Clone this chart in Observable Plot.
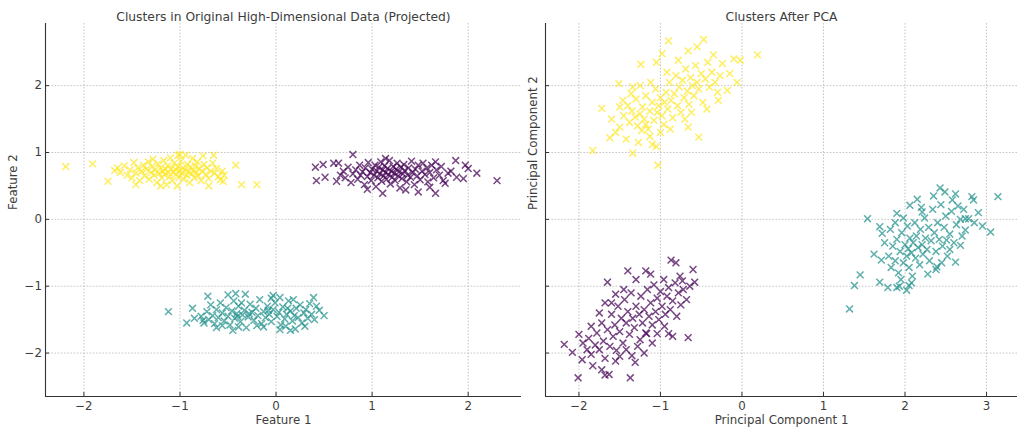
<!DOCTYPE html>
<html><head><meta charset="utf-8">
<script src="https://cdn.jsdelivr.net/npm/d3@7"></script>
<script src="https://cdn.jsdelivr.net/npm/@observablehq/plot@0.6"></script>
<style>
body{margin:0;background:#fff;}
#wrap{position:relative;width:1024px;height:435px;}
#left{position:absolute;left:0;top:0;}
#right{position:absolute;left:522px;top:0;}
</style></head><body><div id="wrap"><div id="left"></div><div id="right"></div></div>
<script>
// ---------- data ----------
const titles = ["Clusters in Original High-Dimensional Data (Projected)", "Clusters After PCA"];
const xLabels = ["Feature 1", "Principal Component 1"];
const yLabels = ["Feature 2", "Principal Component 2"];
const xTicksLeft = [-2, -1, 0, 1, 2];
const xTicksRight = [-2, -1, 0, 1, 2, 3];
const yTicks = [-2, -1, 0, 1, 2];
const colorPurple = "#440154", colorTeal = "#21918c", colorYellow = "#fde725";

const leftYellow = [[-2.19,0.79],[-1.91,0.83],[-1.75,0.57],[-1.68,0.73],[-1.65,0.77],[-1.62,0.70],[-1.58,0.80],[-1.55,0.66],[-1.52,0.74],[-1.50,0.62],[-1.48,0.85],[-1.46,0.69],[-1.44,0.77],[-1.42,0.58],[-1.40,0.72],[-1.38,0.81],[-1.37,0.65],[-1.35,0.75],[-1.33,0.86],[-1.32,0.60],[-1.30,0.70],[-1.29,0.79],[-1.27,0.66],[-1.26,0.74],[-1.24,0.55],[-1.23,0.83],[-1.22,0.69],[-1.20,0.77],[-1.19,0.62],[-1.18,0.72],[-1.17,0.88],[-1.16,0.67],[-1.15,0.75],[-1.14,0.52],[-1.13,0.80],[-1.12,0.70],[-1.11,0.64],[-1.10,0.92],[-1.09,0.76],[-1.08,0.58],[-1.07,0.71],[-1.06,0.84],[-1.05,0.67],[-1.04,0.74],[-1.03,0.50],[-1.02,0.79],[-1.01,0.63],[-1.00,0.72],[-0.99,0.87],[-0.98,0.69],[-0.97,0.77],[-0.96,0.60],[-0.95,0.74],[-0.94,0.96],[-0.93,0.66],[-0.92,0.82],[-0.91,0.71],[-0.90,0.55],[-0.89,0.78],[-0.88,0.68],[-0.87,0.91],[-0.86,0.73],[-0.85,0.62],[-0.84,0.80],[-0.83,0.70],[-0.82,0.86],[-0.81,0.65],[-0.80,0.76],[-0.78,0.58],[-0.77,0.72],[-0.76,0.95],[-0.75,0.82],[-0.73,0.67],[-0.72,0.77],[-0.70,0.61],[-0.68,0.72],[-0.66,0.84],[-0.64,0.69],[-0.62,0.76],[-0.60,0.64],[-0.58,0.59],[-0.56,0.72],[-0.54,0.66],[-0.42,0.81],[-0.36,0.52],[-0.20,0.52],[-0.70,0.50],[-1.46,0.52],[-1.20,0.50],[-1.00,0.97],[-1.28,0.90],[-0.55,0.57],[-1.02,0.96],[-0.65,0.96]];

const leftPurple = [[0.41,0.78],[0.42,0.58],[0.49,0.82],[0.51,0.63],[0.60,0.84],[0.65,0.84],[0.63,0.57],[0.80,0.97],[1.11,0.39],[1.48,0.41],[1.66,0.39],[1.87,0.88],[1.97,0.81],[2.09,0.69],[2.30,0.58],[1.76,0.54],[1.88,0.63],[1.95,0.61],[1.79,0.69],[1.66,0.86],[1.14,0.91],[2.00,0.76],[0.70,0.72],[0.72,0.62],[0.75,0.78],[0.78,0.55],[0.80,0.68],[0.83,0.74],[0.85,0.60],[0.87,0.81],[0.88,0.66],[0.90,0.71],[0.92,0.52],[0.93,0.77],[0.95,0.64],[0.96,0.85],[0.98,0.70],[0.99,0.58],[1.00,0.75],[1.02,0.66],[1.03,0.81],[1.04,0.49],[1.05,0.72],[1.06,0.62],[1.07,0.78],[1.08,0.68],[1.09,0.86],[1.10,0.57],[1.11,0.74],[1.12,0.65],[1.13,0.80],[1.14,0.70],[1.15,0.60],[1.16,0.76],[1.17,0.67],[1.18,0.88],[1.19,0.53],[1.20,0.72],[1.21,0.63],[1.22,0.79],[1.23,0.69],[1.24,0.58],[1.25,0.75],[1.26,0.84],[1.27,0.65],[1.28,0.71],[1.29,0.47],[1.30,0.78],[1.31,0.61],[1.32,0.68],[1.33,0.82],[1.34,0.73],[1.36,0.56],[1.37,0.66],[1.38,0.77],[1.40,0.63],[1.41,0.87],[1.42,0.70],[1.44,0.52],[1.45,0.75],[1.47,0.65],[1.48,0.81],[1.50,0.59],[1.52,0.72],[1.53,0.84],[1.55,0.67],[1.57,0.77],[1.58,0.56],[1.60,0.70],[1.62,0.81],[1.64,0.62],[1.67,0.74],[1.70,0.66],[1.72,0.79],[1.74,0.58],[1.82,0.72],[0.67,0.66],[0.95,0.45],[1.35,0.44],[1.60,0.48]];

const leftTeal = [[-1.12,-1.38],[-0.87,-1.33],[-0.71,-1.15],[-0.42,-1.11],[-0.32,-1.12],[-0.03,-1.14],[0.04,-1.17],[0.39,-1.17],[0.50,-1.44],[-0.56,-1.59],[-0.39,-1.61],[-0.13,-1.61],[0.04,-1.65],[0.15,-1.66],[-0.76,-1.51],[-0.50,-1.13],[0.42,-1.30],[0.40,-1.50],[-0.78,-1.45],[-0.75,-1.55],[-0.72,-1.38],[-0.70,-1.50],[-0.68,-1.28],[-0.66,-1.44],[-0.64,-1.56],[-0.62,-1.35],[-0.60,-1.47],[-0.58,-1.25],[-0.56,-1.40],[-0.54,-1.52],[-0.52,-1.32],[-0.50,-1.45],[-0.48,-1.58],[-0.46,-1.37],[-0.44,-1.22],[-0.43,-1.48],[-0.41,-1.41],[-0.39,-1.30],[-0.37,-1.53],[-0.35,-1.43],[-0.33,-1.36],[-0.31,-1.62],[-0.29,-1.46],[-0.27,-1.27],[-0.25,-1.39],[-0.23,-1.51],[-0.21,-1.33],[-0.19,-1.44],[-0.17,-1.20],[-0.15,-1.56],[-0.13,-1.38],[-0.11,-1.47],[-0.09,-1.30],[-0.07,-1.42],[-0.05,-1.53],[-0.03,-1.35],[-0.01,-1.25],[0.01,-1.45],[0.03,-1.39],[0.05,-1.58],[0.07,-1.31],[0.09,-1.49],[0.11,-1.42],[0.13,-1.22],[0.15,-1.37],[0.17,-1.52],[0.19,-1.44],[0.21,-1.33],[0.23,-1.47],[0.25,-1.28],[0.27,-1.55],[0.29,-1.40],[0.31,-1.35],[0.33,-1.48],[0.35,-1.26],[0.37,-1.42],[0.45,-1.36],[-0.36,-1.25],[-0.20,-1.59],[-0.05,-1.18],[0.10,-1.60],[-0.62,-1.62],[-0.85,-1.48],[-0.93,-1.55],[0.20,-1.64],[-0.45,-1.66],[0.30,-1.60],[0.18,-1.20],[-0.28,-1.41],[-0.08,-1.36],[0.12,-1.33],[-0.40,-1.45]];

const rightYellow = [[-0.90,2.67],[-0.47,2.69],[-0.55,2.58],[0.19,2.46],[-0.10,2.40],[-0.02,2.38],[-0.35,2.46],[-1.24,2.32],[-1.05,2.35],[-0.24,2.33],[-1.51,2.03],[-1.34,1.98],[-1.72,1.66],[-1.83,1.03],[-1.34,0.99],[-1.05,1.09],[-1.03,0.81],[-0.53,1.23],[-0.18,1.93],[-0.29,1.78],[-0.43,1.65],[-0.66,1.38],[-1.13,1.24],[-1.23,1.33],[-1.46,1.78],[-1.31,1.53],[-1.45,1.55],[-1.40,1.70],[-1.38,1.45],[-1.35,1.62],[-1.30,1.80],[-1.28,1.40],[-1.25,1.58],[-1.22,1.68],[-1.20,1.50],[-1.18,1.85],[-1.15,1.35],[-1.13,1.62],[-1.10,1.75],[-1.08,1.48],[-1.06,1.95],[-1.04,1.60],[-1.02,1.70],[-1.00,1.82],[-0.98,1.55],[-0.96,1.42],[-0.95,1.75],[-0.93,1.90],[-0.91,1.65],[-0.89,2.05],[-0.87,1.78],[-0.85,1.52],[-0.83,1.88],[-0.81,2.15],[-0.79,1.70],[-0.77,1.98],[-0.75,1.60],[-0.73,2.08],[-0.71,1.82],[-0.69,2.25],[-0.67,1.92],[-0.65,1.72],[-0.63,2.12],[-0.61,2.00],[-0.59,1.85],[-0.57,2.30],[-0.55,2.05],[-0.53,1.95],[-0.50,2.18],[-0.48,1.75],[-0.45,2.10],[-0.42,2.35],[-0.40,1.98],[-0.37,2.20],[-0.33,2.05],[-0.30,1.90],[-0.27,2.15],[-1.60,1.50],[-1.55,1.30],[-1.50,1.68],[-1.42,1.20],[-1.36,1.88],[-1.27,1.15],[-1.18,1.42],[-1.12,2.05],[-1.00,1.30],[-0.92,2.20],[-0.88,1.35],[-0.78,2.38],[-0.70,1.50],[-0.62,1.60],[-1.25,2.00],[-0.98,2.48],[-0.66,2.52],[-0.15,2.18],[-0.06,2.05],[-1.62,1.22],[-1.50,1.38],[-1.10,1.12]];

const rightPurple = [[-0.87,-0.61],[-0.81,-0.65],[-0.60,-0.75],[-0.58,-0.94],[-0.76,-0.85],[-0.73,-0.92],[-1.40,-0.77],[-1.65,-0.94],[-1.18,-0.77],[-1.12,-0.82],[-2.18,-1.87],[-2.01,-2.37],[-1.37,-2.37],[-1.63,-2.32],[-1.68,-2.33],[-0.66,-1.77],[-0.90,-1.71],[-2.08,-1.99],[-1.96,-2.10],[-1.83,-2.19],[-1.72,-2.25],[-1.31,-2.14],[-1.35,-2.04],[-1.54,-1.96],[-1.04,-1.71],[-1.17,-1.71],[-1.95,-1.85],[-1.90,-1.95],[-1.88,-1.78],[-1.85,-2.02],[-1.80,-1.88],[-1.78,-1.70],[-1.75,-1.95],[-1.72,-1.55],[-1.70,-1.82],[-1.68,-2.08],[-1.65,-1.65],[-1.62,-1.90],[-1.60,-1.42],[-1.58,-1.75],[-1.56,-1.58],[-1.55,-2.12],[-1.52,-1.30],[-1.50,-1.68],[-1.48,-1.48],[-1.46,-1.85],[-1.44,-1.20],[-1.42,-1.55],[-1.40,-1.38],[-1.38,-1.72],[-1.36,-1.10],[-1.34,-1.48],[-1.32,-1.62],[-1.30,-1.30],[-1.28,-1.90],[-1.26,-1.42],[-1.24,-1.15],[-1.22,-1.55],[-1.20,-1.35],[-1.18,-1.70],[-1.16,-1.05],[-1.14,-1.45],[-1.12,-1.25],[-1.10,-1.58],[-1.08,-0.98],[-1.06,-1.38],[-1.04,-1.18],[-1.02,-1.50],[-1.00,-1.08],[-0.98,-1.30],[-0.96,-0.90],[-0.94,-1.42],[-0.92,-1.15],[-0.90,-1.02],[-0.88,-1.35],[-0.85,-1.22],[-0.82,-0.95],[-0.80,-1.45],[-0.78,-1.10],[-0.75,-1.28],[-0.72,-1.05],[-0.68,-1.20],[-0.64,-1.00],[-1.60,-1.25],[-1.45,-1.05],[-1.30,-0.90],[-1.50,-2.05],[-1.25,-1.80],[-1.10,-1.85],[-1.42,-1.95],[-1.85,-1.60],[-2.00,-1.72],[-1.75,-1.40],[-1.55,-1.12],[-1.20,-2.00],[-0.95,-1.60],[-0.85,-1.75],[-1.68,-1.25]];

const rightTeal = [[2.43,0.47],[2.49,0.41],[2.82,0.34],[2.84,0.29],[3.14,0.34],[3.05,-0.19],[2.58,0.29],[1.54,0.01],[1.90,0.09],[2.06,0.21],[1.69,-0.11],[1.72,-0.21],[1.45,-0.83],[1.38,-0.99],[1.32,-1.34],[1.69,-0.94],[1.79,-1.02],[1.90,-1.02],[1.93,-1.00],[2.02,-1.06],[2.05,-0.99],[2.62,-0.64],[2.39,-0.71],[2.68,-0.39],[2.74,0.01],[2.78,0.01],[2.68,0.00],[2.74,-0.16],[2.51,-0.31],[2.21,0.11],[1.71,-0.61],[1.80,-0.55],[1.83,-0.72],[1.85,-0.40],[1.88,-0.62],[1.90,-0.30],[1.92,-0.80],[1.94,-0.48],[1.96,-0.20],[1.98,-0.65],[2.00,-0.38],[2.02,-0.55],[2.03,-0.10],[2.04,-0.44],[2.05,-0.72],[2.06,-0.28],[2.08,-0.50],[2.09,-0.85],[2.10,-0.35],[2.12,-0.05],[2.13,-0.58],[2.14,-0.25],[2.16,-0.42],[2.18,-0.68],[2.19,-0.15],[2.21,-0.38],[2.22,-0.52],[2.24,0.02],[2.25,-0.28],[2.27,-0.45],[2.29,-0.12],[2.30,-0.62],[2.32,-0.32],[2.34,0.15],[2.36,-0.20],[2.38,-0.48],[2.40,-0.05],[2.42,-0.30],[2.44,0.22],[2.46,-0.40],[2.48,-0.12],[2.50,0.05],[2.52,-0.55],[2.55,-0.22],[2.57,0.12],[2.60,-0.35],[2.63,-0.08],[2.65,0.20],[2.70,-0.25],[2.72,0.15],[2.85,-0.05],[2.90,0.10],[1.75,-0.35],[1.82,-0.15],[1.98,0.02],[2.15,0.30],[2.35,0.35],[2.28,-0.82],[2.45,-0.65],[2.08,-0.95],[1.95,-0.90],[2.55,-0.45],[2.62,0.38],[2.95,-0.10],[1.62,-0.52],[1.88,-0.05],[2.20,0.18],[2.38,-0.75]];

// ---------- drawing ----------
const font = "DejaVu Sans, Verdana, sans-serif";
const textColor = "#3d3d3d";
const fmt = d => d < 0 ? "\u2212" + Math.abs(d) : String(d);
const H = 435, mTop = 23, mBottom = 39;
const yDomain = [-2.65, 2.93];

function panel({clusters, width, mLeft, mRight, xDomain, xTicks, title, xLabel, yLabel, yLabelDx, showYTickLabels}) {
  const frameW = width - mLeft - mRight, frameH = H - mTop - mBottom;
  return Plot.plot({
    width, height: H,
    marginLeft: mLeft, marginRight: mRight, marginTop: mTop, marginBottom: mBottom,
    style: {fontFamily: font, fontSize: "11.8px", color: textColor, background: "#fff", overflow: "visible"},
    x: {domain: xDomain, ticks: xTicks, tickFormat: fmt, tickSize: 0, tickPadding: 5, label: null},
    y: showYTickLabels
      ? {domain: yDomain, ticks: yTicks, tickFormat: fmt, tickSize: 0, tickPadding: 3.5, label: null}
      : {domain: yDomain, axis: null},
    marks: [
      Plot.ruleX(xTicks, {stroke: "#b8b8b8", strokeWidth: 0.8, strokeDasharray: "1.6,1.6"}),
      Plot.ruleY(yTicks, {stroke: "#b8b8b8", strokeWidth: 0.8, strokeDasharray: "1.6,1.6"}),
      // inward tick marks
      Plot.ruleX(xTicks, {stroke: "#333", strokeWidth: 1, insetTop: frameH - 4}),
      Plot.ruleY(yTicks, {stroke: "#333", strokeWidth: 1, insetRight: frameW - 4}),
      // spines
      Plot.ruleX([xDomain[0]], {stroke: "#333", strokeWidth: 1.1}),
      Plot.ruleY([yDomain[0]], {stroke: "#333", strokeWidth: 1.1}),
      ...clusters.map(([data, color]) =>
        Plot.dot(data, {x: d => d[0], y: d => d[1], symbol: "times", r: 3.2, stroke: color, strokeWidth: 1.5, strokeOpacity: 0.72})),
      Plot.text([title], {frameAnchor: "top", dy: -11, fill: textColor, fontSize: 12.3}),
      Plot.text([xLabel], {frameAnchor: "bottom", dy: 27, fill: textColor, fontSize: 11.8}),
      Plot.text([yLabel], {frameAnchor: "left", dx: yLabelDx, rotate: -90, fill: textColor, fontSize: 11.8})
    ]
  });
}

document.getElementById("left").append(panel({
  clusters: [[leftPurple, colorPurple], [leftTeal, colorTeal], [leftYellow, colorYellow]],
  width: 522, mLeft: 45, mRight: 1, xDomain: [-2.40, 2.555], xTicks: xTicksLeft,
  title: titles[0], xLabel: xLabels[0], yLabel: yLabels[0], yLabelDx: -32, showYTickLabels: true
}));
document.getElementById("right").append(panel({
  clusters: [[rightPurple, colorPurple], [rightTeal, colorTeal], [rightYellow, colorYellow]],
  width: 502, mLeft: 23, mRight: 7, xDomain: [-2.41, 3.38], xTicks: xTicksRight,
  title: titles[1], xLabel: xLabels[1], yLabel: yLabels[1], yLabelDx: -12, showYTickLabels: false
}));
</script></body></html>
